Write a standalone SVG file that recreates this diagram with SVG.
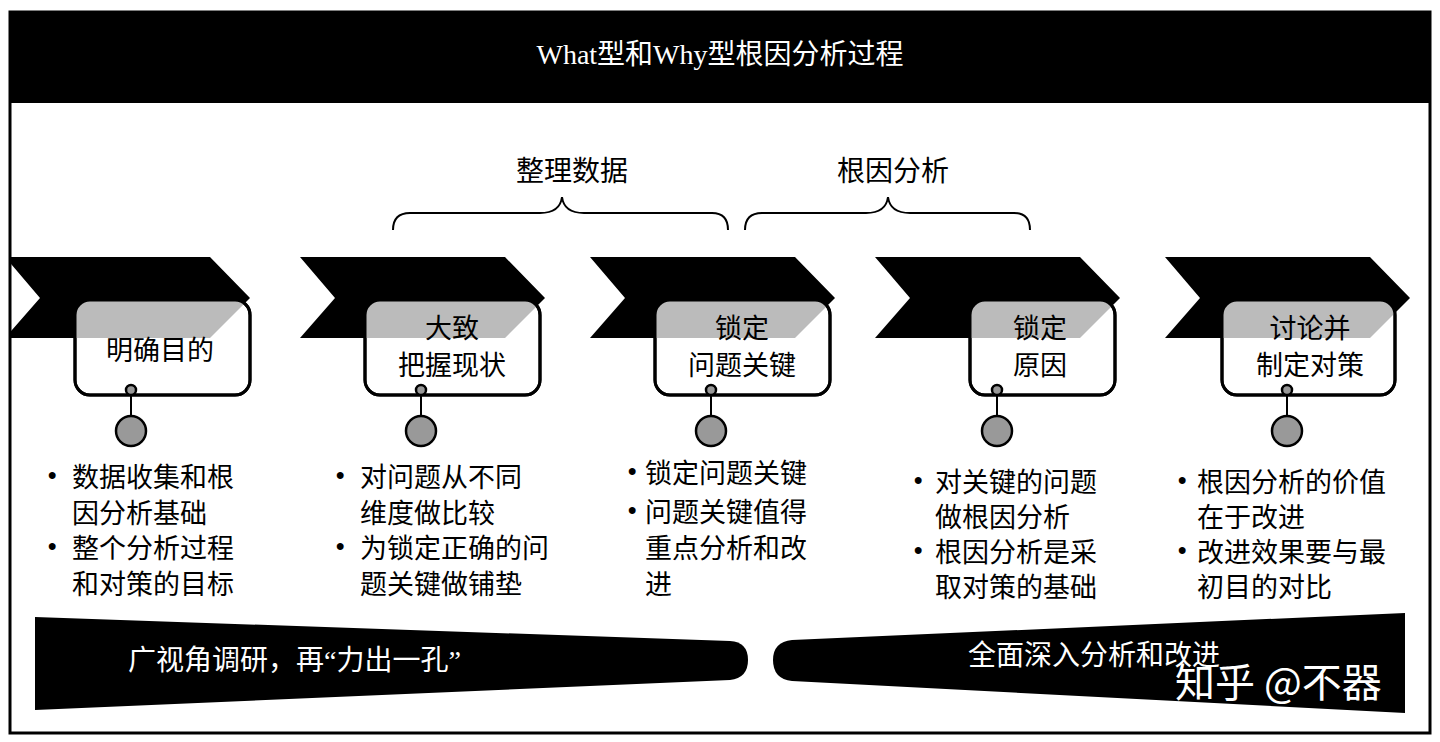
<svg xmlns="http://www.w3.org/2000/svg" width="1440" height="742" viewBox="0 0 1440 742">
<defs>
<style>
.t{font-family:"Liberation Serif","Noto Sans CJK SC",serif;font-size:28px;fill:#000}
.s{font-family:"Noto Sans CJK SC",sans-serif;font-size:27px;fill:#000}
.b{font-family:"Liberation Sans",sans-serif;font-size:24px;font-weight:bold;fill:#000}
.w{fill:#fff}
.box{fill:#fff;stroke:#000;stroke-width:3}
.gc{fill:#999;stroke:#000;stroke-width:2.5}
</style>
<clipPath id="fr"><rect x="10" y="12" width="1420" height="721"/></clipPath>
<clipPath id="b1"><rect x="75" y="300" width="175" height="95" rx="15"/></clipPath>
<clipPath id="b2"><rect x="365" y="300" width="175" height="95" rx="15"/></clipPath>
<clipPath id="b3"><rect x="655" y="300" width="175" height="95" rx="15"/></clipPath>
<clipPath id="b4"><rect x="970" y="300" width="145" height="95" rx="15"/></clipPath>
<clipPath id="b5"><rect x="1222" y="300" width="173" height="95" rx="15"/></clipPath>
<path id="chev" d="M0,257 H205 L245,298 L205,338 H0 L35,298 Z"/>
</defs>
<rect x="0" y="0" width="1440" height="742" fill="#fff"/>
<rect x="10" y="12" width="1420" height="721" fill="#fff" stroke="#000" stroke-width="3"/>
<rect x="10" y="12" width="1420" height="91" fill="#000"/>
<text class="t w" x="720" y="64" text-anchor="middle">What型和Why型根因分析过程</text>
<text class="t" x="572" y="181" text-anchor="middle">整理数据</text>
<text class="t" x="893" y="181" text-anchor="middle">根因分析</text>
<g id="braces" fill="none" stroke="#000" stroke-width="2">
<path d="M393,230 Q393,213 410,213 H540 Q560,213 562,197 Q564,213 584,213 H712 Q728,213 728,230"/>
<path d="M745,230 Q745,213 762,213 H866 Q886,213 888,197 Q890,213 910,213 H1014 Q1030,213 1030,230"/>
</g>
<g clip-path="url(#fr)">
<use href="#chev" x="5"/>
</g>
<g id="n1">
<rect class="box" x="75" y="300" width="175" height="95" rx="15"/>
<g clip-path="url(#b1)"><use href="#chev" x="5" fill="#bbb"/></g>
<rect x="75" y="300" width="175" height="95" rx="15" fill="none" stroke="#000" stroke-width="3"/>
<text class="s" x="160" y="360" text-anchor="middle">明确目的</text>
</g>
<g id="n2">
<use href="#chev" x="300"/>
<rect class="box" x="365" y="300" width="175" height="95" rx="15"/>
<g clip-path="url(#b2)"><use href="#chev" x="300" fill="#bbb"/></g>
<rect x="365" y="300" width="175" height="95" rx="15" fill="none" stroke="#000" stroke-width="3"/>
<text class="s" x="452" y="338" text-anchor="middle">大致</text>
<text class="s" x="452" y="375" text-anchor="middle">把握现状</text>
</g>
<g id="n3">
<use href="#chev" x="590"/>
<rect class="box" x="655" y="300" width="175" height="95" rx="15"/>
<g clip-path="url(#b3)"><use href="#chev" x="590" fill="#bbb"/></g>
<rect x="655" y="300" width="175" height="95" rx="15" fill="none" stroke="#000" stroke-width="3"/>
<text class="s" x="742" y="338" text-anchor="middle">锁定</text>
<text class="s" x="742" y="375" text-anchor="middle">问题关键</text>
</g>
<g id="n4">
<use href="#chev" x="875"/>
<rect class="box" x="970" y="300" width="145" height="95" rx="15"/>
<g clip-path="url(#b4)"><use href="#chev" x="875" fill="#bbb"/></g>
<rect x="970" y="300" width="145" height="95" rx="15" fill="none" stroke="#000" stroke-width="3"/>
<text class="s" x="1040" y="338" text-anchor="middle">锁定</text>
<text class="s" x="1040" y="375" text-anchor="middle">原因</text>
</g>
<g id="n5">
<use href="#chev" x="1165"/>
<rect class="box" x="1222" y="300" width="173" height="95" rx="15"/>
<g clip-path="url(#b5)"><use href="#chev" x="1165" fill="#bbb"/></g>
<rect x="1222" y="300" width="173" height="95" rx="15" fill="none" stroke="#000" stroke-width="3"/>
<text class="s" x="1310" y="338" text-anchor="middle">讨论并</text>
<text class="s" x="1310" y="375" text-anchor="middle">制定对策</text>
</g>
<g id="connectors" stroke="#000" stroke-width="2">
<line x1="131" y1="395" x2="131" y2="416"/>
<line x1="421" y1="395" x2="421" y2="416"/>
<line x1="711" y1="395" x2="711" y2="416"/>
<line x1="997" y1="395" x2="997" y2="416"/>
<line x1="1287" y1="395" x2="1287" y2="416"/>
</g>
<g id="dots">
<circle class="gc" cx="131" cy="390" r="5"/><circle class="gc" cx="131" cy="431" r="15"/>
<circle class="gc" cx="421" cy="390" r="5"/><circle class="gc" cx="421" cy="431" r="15"/>
<circle class="gc" cx="711" cy="390" r="5"/><circle class="gc" cx="711" cy="431" r="15"/>
<circle class="gc" cx="997" cy="390" r="5"/><circle class="gc" cx="997" cy="431" r="15"/>
<circle class="gc" cx="1287" cy="390" r="5"/><circle class="gc" cx="1287" cy="431" r="15"/>
</g>
<g id="bullets">
<text class="b" x="48" y="483">•</text><text class="s" x="72" y="487">数据收集和根</text>
<text class="s" x="72" y="523">因分析基础</text>
<text class="b" x="48" y="554">•</text><text class="s" x="72" y="558">整个分析过程</text>
<text class="s" x="72" y="594">和对策的目标</text>
<text class="b" x="336" y="483">•</text><text class="s" x="360" y="487">对问题从不同</text>
<text class="s" x="360" y="523">维度做比较</text>
<text class="b" x="336" y="554">•</text><text class="s" x="360" y="558">为锁定正确的问</text>
<text class="s" x="360" y="594">题关键做铺垫</text>
<text class="b" x="628" y="479">•</text><text class="s" x="645" y="483">锁定问题关键</text>
<text class="b" x="628" y="518">•</text><text class="s" x="645" y="522">问题关键值得</text>
<text class="s" x="645" y="558">重点分析和改</text>
<text class="s" x="645" y="594">进</text>
<text class="b" x="914" y="488">•</text><text class="s" x="935" y="492">对关键的问题</text>
<text class="s" x="935" y="527">做根因分析</text>
<text class="b" x="914" y="558">•</text><text class="s" x="935" y="562">根因分析是采</text>
<text class="s" x="935" y="597">取对策的基础</text>
<text class="b" x="1178" y="488">•</text><text class="s" x="1197" y="492">根因分析的价值</text>
<text class="s" x="1197" y="527">在于改进</text>
<text class="b" x="1178" y="558">•</text><text class="s" x="1197" y="562">改进效果要与最</text>
<text class="s" x="1197" y="597">初目的对比</text>
</g>
<g id="bars">
<path d="M35,617 L730,641 Q748,642 748,660 Q748,678 730,680 L35,710 Z" fill="#000"/>
<path d="M1405,613 L792,640 Q773,642 773,660 Q773,679 792,681 L1405,713 Z" fill="#000"/>
<text class="t w" x="128" y="670" font-size="27">广视角调研，再“力出一孔”</text>
<text class="t w" x="968" y="665" font-size="27">全面深入分析和改进</text>
<text x="1175" y="697" font-family="Noto Sans CJK SC,sans-serif" font-size="40" fill="#fff">知乎 @不器</text>
</g>
</svg>
